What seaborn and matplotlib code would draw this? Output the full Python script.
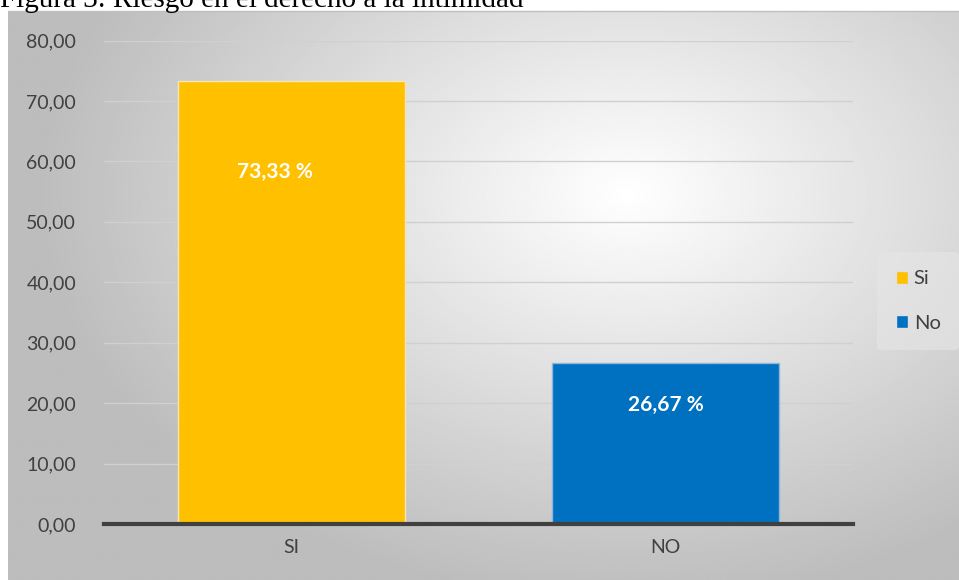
import numpy as np
import pandas as pd
import matplotlib.pyplot as plt
import seaborn as sns

categorias = ['SI', 'NO']
valores = [73.33, 26.67]
etiquetas = ['73,33 %', '26,67 %']
leyenda = ['Si', 'No']
colores = ['#FFC000', '#0070C0']
yticks = [0, 10, 20, 30, 40, 50, 60, 70, 80]
ytick_labels = ['0,00', '10,00', '20,00', '30,00', '40,00', '50,00', '60,00', '70,00', '80,00']

sns.set_style('white')
plt.rcParams['font.family'] = ['Lato', 'DejaVu Sans']

df = pd.DataFrame({'cat': categorias, 'val': valores})

fig = plt.figure(figsize=(9.59, 5.8), dpi=100)

# fondo con degradado radial
bg = fig.add_axes([8 / 959, 0, 1 - 8 / 959, (580 - 11) / 580])
h, w = 300, 500
yy, xx = np.mgrid[0:h, 0:w]
cx, cy = 0.65 * w, 0.32 * h
r = np.sqrt(((xx - cx) / w) ** 2 + ((yy - cy) / h) ** 2 * 0.75)
g = np.clip(1.0 - r * 0.42, 0.74, 1.0)
bg.imshow(g, cmap='gray', vmin=0, vmax=1, aspect='auto', interpolation='bilinear')
bg.set_axis_off()
fig.add_artist(plt.Line2D([8 / 959, 1], [1 - 11 / 580, 1 - 11 / 580], color='#bfbfbf', lw=1))

ax = fig.add_axes([104 / 959, 1 - 524 / 580, 749 / 959, (524 - 40.5) / 580])
ax.patch.set_alpha(0)
sns.barplot(data=df, x='cat', y='val', hue='cat', palette=colores, width=0.606,
            saturation=1, ax=ax, legend=False, edgecolor='#f5e6b8', linewidth=1, zorder=3)
ax.patches[1].set_edgecolor('#8db6dc')
ax.set_xlim(-0.5, 1.5)
ax.set_ylim(0, 80)
ax.set_yticks(yticks)
ax.set_yticklabels(ytick_labels)
ax.set_xlabel('')
ax.set_ylabel('')
ax.yaxis.grid(True, color='#d0d0d0', lw=1, zorder=0)
ax.set_axisbelow(True)
for s in ['top', 'right', 'left']:
    ax.spines[s].set_visible(False)
ax.spines['bottom'].set_color('#404040')
ax.spines['bottom'].set_linewidth(3)
ax.spines['bottom'].set_zorder(4)
ax.tick_params(axis='both', length=0, labelsize=14, labelcolor='#404040')
ax.tick_params(axis='y', pad=20)
ax.tick_params(axis='x', pad=11)

# etiquetas dentro de las barras
pos_x = [-0.043, 0.0]
pos_y = [58.3, 19.7]
for i, t in enumerate(etiquetas):
    ax.text(i + pos_x[i], pos_y[i], t, ha='center', va='center', color='white', fontsize=15,
            fontweight='bold', zorder=5)

handles = [plt.Rectangle((0, 0), 1, 1, facecolor=c, edgecolor='#e0e0e0') for c in colores]
leg = fig.legend(handles, leyenda, loc='center', bbox_to_anchor=(918 / 959, 1 - 301 / 580),
                 frameon=True, fontsize=14.5, handlelength=0.6, handleheight=0.6,
                 handletextpad=0.3, labelspacing=1.35, borderpad=0.9)
leg.get_frame().set_facecolor('#e6e6e6')
leg.get_frame().set_edgecolor('none')
leg.get_frame().set_alpha(0.6)
for t in leg.get_texts():
    t.set_color('#404040')

fig.text(0.0, 1 - 7 / 580, 'Figura 3: Riesgo en el derecho a la intimidad',
         family=['Liberation Serif'], fontsize=21, va='baseline', ha='left', color='black')

fig.savefig('out.png', dpi=100)
